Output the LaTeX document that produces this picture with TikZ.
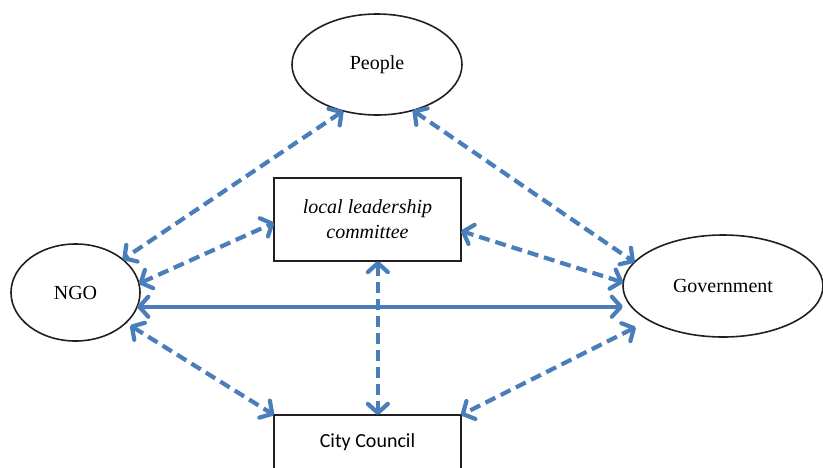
\documentclass[tikz,border=0pt]{standalone}
\usepackage{fontspec}
\setmainfont{Liberation Serif}
\newfontfamily\calibri{Carlito}
\usetikzlibrary{positioning,arrows.meta,shapes.geometric}
\definecolor{linkblue}{RGB}{74,126,187}
\definecolor{edgegray}{RGB}{35,31,32}

\begin{document}
\begin{tikzpicture}[x=1pt, y=-1pt, font=\fontsize{20}{25}\selectfont,
        party/.style={ellipse, draw=edgegray, line width=1.6pt, inner sep=0pt, outer sep=0pt},
        panel/.style={rectangle, draw=edgegray, line width=2pt, inner sep=0pt, outer sep=0pt, minimum width=187pt, align=center},
        link/.style={linkblue, line width=4.2pt, {Straight Barb[length=9pt,width=20pt,round]}-{Straight Barb[length=9pt,width=20pt,round]}},
        dlink/.style={link, dash pattern=on 11pt off 6pt}]
        \useasboundingbox (0,0) rectangle (823,467);
        % Boxes in the middle
        \node[panel, minimum height=83pt] (local) at (367.5,219.5) {\itshape local leadership\\\itshape committee};
        \node[panel, minimum height=54pt, below=154pt of local] (council) {\calibri City Council};
        % Ellipses around them
        \node[party, minimum width=170pt, minimum height=101pt, above=63pt of local, xshift=9.5pt] (people) {People};
        \node[party, minimum width=129pt, minimum height=97pt, left=134pt of local, yshift=-73pt] (ngo) {NGO};
        \node[party, minimum width=200pt, minimum height=102pt, right=162pt of local, yshift=-66.5pt] (gov) {Government};
        % Edges
        \draw[dlink] (people.234) -- (ngo.35);
        \draw[dlink] (people.308) -- (gov.165);
        \draw[dlink] (ngo.8) -- (local.182);
        \draw[dlink] (gov.178) -- (local.353);
        \draw[link] (ngo.347) -- (ngo.347 -| gov.west);
        \draw[dlink] (local.284) -- (local.284 |- council.north);
        \draw[dlink, shorten <=5pt] (ngo.329) -- (council.north west);
        \draw[dlink, shorten <=15pt] (gov.205) -- (council.north east);
\end{tikzpicture}
\end{document}
